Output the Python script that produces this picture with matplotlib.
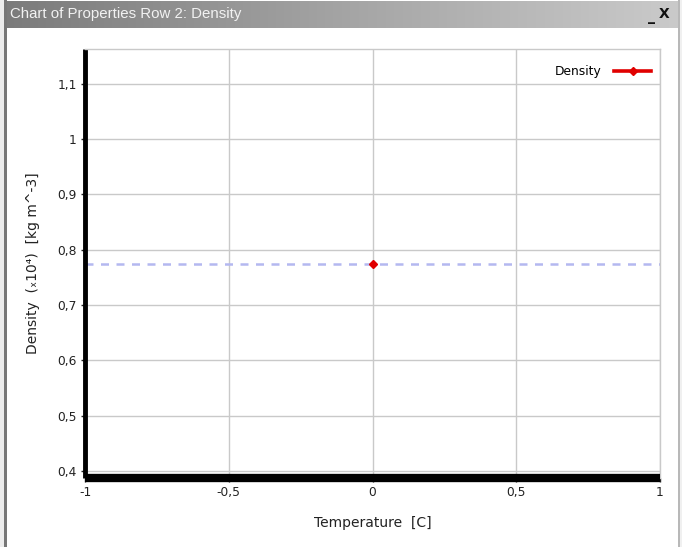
"""Density vs temperature property chart, drawn inside a small window frame."""

import matplotlib

matplotlib.use("Agg")
import matplotlib.pyplot as plt  # noqa: E402
import numpy as np
from matplotlib.patches import Rectangle

W, H = 682, 547

# property data (density in units of 1e4 kg m^-3)
temperature = [0.0]
density = [0.775]
x_ticks = [-1, -0.5, 0, 0.5, 1]
x_tick_labels = ["-1", "-0,5", "0", "0,5", "1"]
y_ticks = [0.4, 0.5, 0.6, 0.7, 0.8, 0.9, 1.0, 1.1]
y_tick_labels = ["0,4", "0,5", "0,6", "0,7", "0,8", "0,9", "1", "1,1"]
window_title = "Chart of Properties Row 2: Density"


def fx(px):
    return px / W


def fy(py):
    return 1 - py / H


fig = plt.figure(figsize=(W / 100, H / 100), dpi=100)
fig.patch.set_facecolor("white")

# window chrome: outer strip, left/right borders, title bar gradient
fig.patches.append(Rectangle((0, 0), fx(4), 1, transform=fig.transFigure,
                             facecolor="#ececec", edgecolor="none"))
fig.patches.append(Rectangle((fx(4), 0), fx(3), 1, transform=fig.transFigure,
                             facecolor="#777777", edgecolor="none"))
fig.patches.append(Rectangle((fx(678), 0), fx(1.5), 1, transform=fig.transFigure,
                             facecolor="#b8b8b8", edgecolor="none"))
fig.patches.append(Rectangle((fx(680), 0), fx(2), 1, transform=fig.transFigure,
                             facecolor="#f0f0f0", edgecolor="none"))

tbar = fig.add_axes([fx(4), fy(28), fx(675), 27 / H])
grad = np.linspace(0, 1, 256)[None, :]
tbar.imshow(grad, aspect="auto", cmap=matplotlib.colors.LinearSegmentedColormap.from_list(
    "tb", ["#7b7b7b", "#a4a4a4", "#cacaca"]), extent=(0, 1, 0, 1))
tbar.axis("off")
fig.text(fx(10), fy(14), window_title, color="#f2f2f2", fontsize=10.8,
         family="Liberation Sans", va="center", ha="left")
fig.text(fx(651), fy(17), "_", color="#111111", fontsize=10, weight="bold",
         va="center", ha="center")
fig.text(fx(664), fy(14), "X", color="#111111", fontsize=10, weight="bold",
         va="center", ha="center")

# plot area
ax = fig.add_axes([fx(85), fy(478), fx(660 - 85), (478 - 49) / H])
ax.set_xlim(-1, 1)
ax.set_ylim(0.3875, 1.1625)

ax.axhline(density[0], color="#b4b8f0", lw=1.8, ls=(0, (3.2, 3)), zorder=2)
ax.plot(temperature, density, color="#e00000", lw=2.6, marker="D", ms=4.5,
        label="Density", zorder=4)

ax.set_xticks(x_ticks)
ax.set_xticklabels(x_tick_labels)
ax.set_yticks(y_ticks)
ax.set_yticklabels(y_tick_labels)
ax.grid(True, color="#c9c9c9", lw=1)
ax.set_axisbelow(True)
ax.tick_params(direction="out", length=3, width=1, color="#222222",
               labelsize=8.8, labelcolor="#222222", pad=3)

for side in ("top", "right"):
    ax.spines[side].set_color("#c9c9c9")
    ax.spines[side].set_linewidth(1)
ax.spines["left"].set_linewidth(3.5)
ax.spines["left"].set_color("black")
ax.spines["bottom"].set_linewidth(6)
ax.spines["bottom"].set_color("black")
for side in ("left", "bottom"):
    ax.spines[side].set_capstyle("butt")

ax.set_xlabel("Temperature  [C]", fontsize=10, color="#222222", labelpad=12)
ax.set_ylabel("Density  (\u2093" + "10\u2074)  [kg m^-3]", fontsize=10,
              color="#222222", labelpad=12)

ax.legend(loc="upper right", bbox_to_anchor=(1 + 7 / 575, 1), frameon=False,
          markerfirst=False, fontsize=8.8, handlelength=3.0,
          handletextpad=1.1, borderaxespad=0.9)

fig.savefig("out.png", dpi=100)
